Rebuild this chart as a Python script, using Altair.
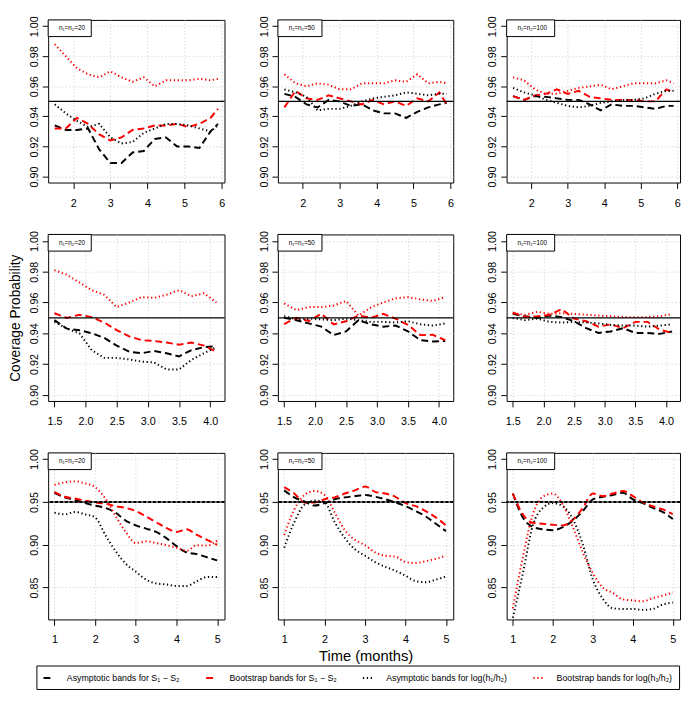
import altair as alt
import pandas as pd

FONT = "Liberation Sans"

# ---- series names (legend labels) ----
S_AS = "Asymptotic bands for S₁ − S₂"
S_BS = "Bootstrap bands for S₁ − S₂"
S_AL = "Asymptotic bands for log(h₁/h₂)"
S_BL = "Bootstrap bands for log(h₁/h₂)"
SERIES = [S_AS, S_BS, S_AL, S_BL]
COLORS = ["#000000", "#FF0000", "#000000", "#FF0000"]
DASHES = [[7, 4], [7, 4], [1.3, 2.7], [1.3, 2.7]]
WIDTHS = [2.0, 2.0, 1.4, 1.4]

# ---- x grids ----
X_ROW1 = [1.5, 1.8, 2.1, 2.4, 2.7, 3.0, 3.3, 3.6, 3.9, 4.2, 4.5, 4.8, 5.1, 5.4, 5.7, 5.9]
X_ROW2 = [1.5, 1.7, 1.9, 2.1, 2.3, 2.5, 2.7, 2.9, 3.1, 3.3, 3.5, 3.7, 3.9, 4.1]
X_ROW3 = [1.0, 1.25, 1.5, 1.75, 2.0, 2.25, 2.5, 2.75, 3.0, 3.25, 3.5, 3.75, 4.0, 4.25, 4.5, 4.75, 5.0]

# ---- row 1 ----
P11_AS = [0.934, 0.931, 0.931, 0.932, 0.918, 0.909, 0.909, 0.916, 0.917, 0.925, 0.926, 0.920, 0.920, 0.919, 0.930, 0.935]
P11_BS = [0.932, 0.932, 0.939, 0.935, 0.928, 0.924, 0.926, 0.931, 0.932, 0.934, 0.934, 0.935, 0.933, 0.935, 0.939, 0.945]
P11_AL = [0.948, 0.942, 0.937, 0.933, 0.935, 0.926, 0.922, 0.923, 0.929, 0.932, 0.935, 0.935, 0.934, 0.932, 0.930, 0.934]
P11_BL = [0.988, 0.980, 0.972, 0.968, 0.966, 0.970, 0.966, 0.963, 0.966, 0.960, 0.964, 0.964, 0.964, 0.965, 0.964, 0.965]

P12_AS = [0.955, 0.953, 0.948, 0.946, 0.951, 0.950, 0.947, 0.948, 0.944, 0.942, 0.942, 0.939, 0.943, 0.946, 0.948, 0.949]
P12_BS = [0.946, 0.957, 0.952, 0.951, 0.954, 0.952, 0.950, 0.948, 0.951, 0.948, 0.950, 0.947, 0.952, 0.950, 0.956, 0.948]
P12_AL = [0.958, 0.956, 0.953, 0.944, 0.945, 0.945, 0.947, 0.950, 0.952, 0.953, 0.954, 0.956, 0.955, 0.954, 0.955, 0.955]
P12_BL = [0.968, 0.962, 0.960, 0.962, 0.961, 0.958, 0.958, 0.962, 0.962, 0.962, 0.964, 0.963, 0.968, 0.962, 0.963, 0.962]

P13_AS = [0.9535, 0.951, 0.9535, 0.953, 0.952, 0.951, 0.951, 0.948, 0.944, 0.948, 0.947, 0.947, 0.946, 0.945, 0.947, 0.947]
P13_BS = [0.9535, 0.951, 0.954, 0.955, 0.958, 0.955, 0.957, 0.953, 0.952, 0.951, 0.951, 0.951, 0.950, 0.950, 0.958, 0.956]
P13_AL = [0.959, 0.956, 0.954, 0.951, 0.949, 0.947, 0.946, 0.947, 0.949, 0.950, 0.951, 0.951, 0.952, 0.955, 0.957, 0.957]
P13_BL = [0.966, 0.964, 0.958, 0.955, 0.955, 0.957, 0.959, 0.960, 0.961, 0.958, 0.960, 0.962, 0.962, 0.962, 0.964, 0.962]

# ---- row 2 ----
P21_AS = [0.9485, 0.943, 0.942, 0.940, 0.937, 0.932, 0.928, 0.927, 0.9285, 0.927, 0.925, 0.929, 0.931, 0.9315]
P21_BS = [0.953, 0.950, 0.952, 0.9505, 0.947, 0.942, 0.938, 0.9355, 0.935, 0.934, 0.9326, 0.934, 0.932, 0.928]
P21_AL = [0.9474, 0.943, 0.940, 0.929, 0.924, 0.924, 0.923, 0.9216, 0.921, 0.9165, 0.9165, 0.9227, 0.927, 0.931]
P21_BL = [0.981, 0.978, 0.973, 0.968, 0.965, 0.957, 0.960, 0.9635, 0.963, 0.965, 0.968, 0.964, 0.966, 0.960]

P22_AS = [0.950, 0.9485, 0.9464, 0.9443, 0.9388, 0.9412, 0.9485, 0.9458, 0.9443, 0.945, 0.9412, 0.9355, 0.9346, 0.935]
P22_BS = [0.946, 0.950, 0.948, 0.9526, 0.9458, 0.9478, 0.9515, 0.950, 0.9526, 0.9495, 0.9454, 0.9388, 0.939, 0.9355]
P22_AL = [0.9511, 0.949, 0.9495, 0.949, 0.9485, 0.9495, 0.9485, 0.9474, 0.9474, 0.947, 0.9478, 0.9458, 0.945, 0.9464]
P22_BL = [0.9594, 0.955, 0.957, 0.957, 0.958, 0.961, 0.9515, 0.9567, 0.960, 0.9627, 0.9635, 0.962, 0.961, 0.9635]

P23_AS = [0.9526, 0.951, 0.950, 0.9515, 0.9505, 0.9478, 0.9433, 0.9402, 0.9412, 0.9433, 0.9402, 0.9402, 0.9396, 0.9412]
P23_BS = [0.9536, 0.9505, 0.951, 0.952, 0.9557, 0.9495, 0.9478, 0.9443, 0.9458, 0.9433, 0.9474, 0.9474, 0.9423, 0.9402]
P23_AL = [0.950, 0.9485, 0.9495, 0.9474, 0.947, 0.9474, 0.947, 0.9464, 0.9454, 0.945, 0.945, 0.9443, 0.945, 0.9458]
P23_BL = [0.953, 0.952, 0.954, 0.9526, 0.953, 0.9526, 0.952, 0.9515, 0.951, 0.9505, 0.9505, 0.9505, 0.951, 0.9526]

# ---- row 3 ----
P31_AS = [0.9606, 0.9553, 0.9524, 0.9486, 0.9457, 0.943, 0.9375, 0.9282, 0.9226, 0.9189, 0.9151, 0.9077, 0.8984, 0.891, 0.8891, 0.8854, 0.8817]
P31_BS = [0.9617, 0.956, 0.954, 0.9516, 0.9494, 0.948, 0.945, 0.943, 0.9393, 0.933, 0.9263, 0.9196, 0.915, 0.918, 0.9114, 0.9058, 0.900]
P31_AL = [0.9375, 0.9356, 0.9382, 0.9356, 0.9319, 0.9114, 0.8928, 0.878, 0.8686, 0.8593, 0.8549, 0.8537, 0.8519, 0.8519, 0.8575, 0.8623, 0.8623]
P31_BL = [0.970, 0.9728, 0.974, 0.9717, 0.9672, 0.954, 0.9338, 0.915, 0.902, 0.904, 0.902, 0.8995, 0.8965, 0.893, 0.8995, 0.899, 0.905]

P32_AS = [0.9635, 0.9553, 0.9505, 0.9457, 0.9486, 0.9531, 0.9553, 0.9568, 0.958, 0.956, 0.9531, 0.9494, 0.945, 0.9393, 0.933, 0.9245, 0.9159]
P32_BS = [0.9672, 0.9598, 0.9494, 0.9494, 0.9531, 0.9553, 0.9598, 0.9635, 0.968, 0.9617, 0.9598, 0.956, 0.9486, 0.945, 0.9393, 0.9319, 0.9226]
P32_AL = [0.8965, 0.9263, 0.9468, 0.9516, 0.9494, 0.9263, 0.9077, 0.8947, 0.8872, 0.8798, 0.8742, 0.8697, 0.8638, 0.8575, 0.8563, 0.8593, 0.863]
P32_BL = [0.9114, 0.9412, 0.958, 0.9628, 0.958, 0.9375, 0.917, 0.9058, 0.8995, 0.891, 0.8872, 0.8861, 0.8798, 0.8787, 0.8809, 0.8835, 0.8872]

P33_AS = [0.9598, 0.9319, 0.9207, 0.9181, 0.917, 0.9207, 0.9282, 0.9393, 0.9531, 0.956, 0.958, 0.9606, 0.9531, 0.9486, 0.943, 0.9382, 0.930]
P33_BS = [0.9598, 0.9356, 0.9256, 0.9245, 0.9233, 0.9226, 0.9293, 0.943, 0.9598, 0.9568, 0.9598, 0.9628, 0.9568, 0.9494, 0.9449, 0.9412, 0.9356]
P33_AL = [0.8147, 0.8668, 0.9226, 0.943, 0.9486, 0.9449, 0.930, 0.9003, 0.8593, 0.837, 0.8258, 0.8251, 0.8251, 0.824, 0.8251, 0.8303, 0.8325]
P33_BL = [0.8258, 0.8854, 0.9356, 0.956, 0.9598, 0.9468, 0.9207, 0.891, 0.8668, 0.850, 0.8437, 0.8362, 0.8351, 0.834, 0.8377, 0.8407, 0.8444]

# ---- panel labels and ticks ----
LABELS = ["n₁=n₂=20", "n₁=n₂=50", "n₁=n₂=100"]
XTICKS_ROW1 = [2, 3, 4, 5, 6]
XTICKS_ROW2 = [1.5, 2.0, 2.5, 3.0, 3.5, 4.0]
XTICKS_ROW3 = [1, 2, 3, 4, 5]
YTICKS_ROW12 = [0.90, 0.92, 0.94, 0.96, 0.98, 1.00]
YTICKS_ROW3 = [0.85, 0.90, 0.95, 1.00]
TARGET = 0.95

COL_W = [180, 179, 177]
ROW_H = [166, 170, 170]
LABEL_BOX_W = [44, 45, 49]

LEGEND = alt.Legend(
    orient="none", legendX=-12, legendY=659, direction="horizontal", columns=4,
    symbolType="stroke", symbolSize=110, symbolStrokeWidth=1.5,
    labelFont=FONT, labelFontSize=9, labelColor="black",
    strokeColor="black", padding=6, columnPadding=22, labelOffset=12, cornerRadius=0,
)


def panel(xs, vals, label, col, row, xdom, ydom, xticks, yticks, xfmt,
          ytitle=None, xtitle=None, smooth=False, heavy=False):
    recs = []
    for name, ys in zip(SERIES, vals):
        for x, y in zip(xs, ys):
            recs.append({"x": x, "y": y, "series": name})
    df = pd.DataFrame(recs)
    one = pd.DataFrame({"k": [0]})

    xaxis = alt.Axis(values=xticks, tickCount=30, format=xfmt, title=xtitle, labelOverlap=False)
    yaxis = alt.Axis(values=yticks, tickCount=30, format=".2f", title=ytitle, labelOverlap=False)

    line_kw = {"clip": True}
    if smooth:
        line_kw["interpolate"] = "monotone"
    lines = alt.Chart(df).mark_line(**line_kw).encode(
        x=alt.X("x:Q", scale=alt.Scale(domain=xdom, nice=False, zero=False), axis=xaxis),
        y=alt.Y("y:Q", scale=alt.Scale(domain=ydom, nice=False, zero=False), axis=yaxis),
        color=alt.Color("series:N", scale=alt.Scale(domain=SERIES, range=COLORS), title=None, legend=LEGEND),
        strokeDash=alt.StrokeDash("series:N", scale=alt.Scale(domain=SERIES, range=DASHES), title=None,
                                  legend=LEGEND),
        strokeWidth=alt.StrokeWidth("series:N", scale=alt.Scale(domain=SERIES, range=WIDTHS), legend=None),
    )
    layers = [lines]
    layers.append(alt.Chart(one).mark_rule(color="black", strokeWidth=1.1).encode(y=alt.datum(TARGET)))
    if heavy:
        layers.append(alt.Chart(one).mark_rule(color="black", strokeWidth=2, strokeDash=[3, 2]).encode(
            y=alt.datum(TARGET)))
    layers.append(alt.Chart(one).mark_rect(fill="white", stroke="black", strokeWidth=1).encode(
        x=alt.value(0), x2=alt.value(LABEL_BOX_W[col]), y=alt.value(0), y2=alt.value(17)))
    layers.append(alt.Chart(one).mark_text(font=FONT, fontSize=6.5, align="left", baseline="middle",
                                            color="black").encode(
        x=alt.value(11), y=alt.value(8.5), text=alt.value(label)))
    return alt.layer(*layers).properties(width=COL_W[col], height=ROW_H[row])


R1X = [1.324, 6.076]
R2X = [1.40, 4.23]
R3X = [0.845, 5.18]
R12Y = [0.896, 1.0042]
R3Y = [0.8128, 1.0072]

panels = [
    panel(X_ROW1, [P11_AS, P11_BS, P11_AL, P11_BL], LABELS[0], 0, 0, R1X, R12Y, XTICKS_ROW1, YTICKS_ROW12, "d"),
    panel(X_ROW1, [P12_AS, P12_BS, P12_AL, P12_BL], LABELS[1], 1, 0, R1X, R12Y, XTICKS_ROW1, YTICKS_ROW12, "d"),
    panel(X_ROW1, [P13_AS, P13_BS, P13_AL, P13_BL], LABELS[2], 2, 0, R1X, R12Y, XTICKS_ROW1, YTICKS_ROW12, "d"),
    panel(X_ROW2, [P21_AS, P21_BS, P21_AL, P21_BL], LABELS[0], 0, 1, R2X, R12Y, XTICKS_ROW2, YTICKS_ROW12, ".1f",
          ytitle="Coverage Probability"),
    panel(X_ROW2, [P22_AS, P22_BS, P22_AL, P22_BL], LABELS[1], 1, 1, R2X, R12Y, XTICKS_ROW2, YTICKS_ROW12, ".1f"),
    panel(X_ROW2, [P23_AS, P23_BS, P23_AL, P23_BL], LABELS[2], 2, 1, R2X, R12Y, XTICKS_ROW2, YTICKS_ROW12, ".1f"),
    panel(X_ROW3, [P31_AS, P31_BS, P31_AL, P31_BL], LABELS[0], 0, 2, R3X, R3Y, XTICKS_ROW3, YTICKS_ROW3, "d",
          smooth=True, heavy=True),
    panel(X_ROW3, [P32_AS, P32_BS, P32_AL, P32_BL], LABELS[1], 1, 2, R3X, R3Y, XTICKS_ROW3, YTICKS_ROW3, "d",
          xtitle="Time (months)", smooth=True, heavy=True),
    panel(X_ROW3, [P33_AS, P33_BS, P33_AL, P33_BL], LABELS[2], 2, 2, R3X, R3Y, XTICKS_ROW3, YTICKS_ROW3, "d",
          smooth=True, heavy=True),
]

chart = alt.concat(*panels, columns=3, spacing={"row": 21, "column": 31.5}, align="each").resolve_scale(
    color="shared", strokeDash="shared", strokeWidth="shared"
).resolve_legend(
    color="shared", strokeDash="shared"
).properties(
    padding=0
).configure_view(
    stroke="black", strokeWidth=1
).configure_axis(
    domain=False, tickColor="black", tickSize=6, tickWidth=1,
    labelFont=FONT, labelFontSize=11, labelColor="black", labelOverlap=False,
    grid=True, gridColor="#c4c4c4", gridDash=[1, 2.5], gridWidth=0.9,
    titleFont=FONT, titleFontWeight="normal", titleColor="black",
).configure_axisLeft(
    labelAngle=270, labelAlign="center", labelBaseline="bottom", labelPadding=3,
    titleFontSize=14, titlePadding=6,
).configure_axisBottom(
    labelPadding=9, titleFontSize=15, titlePadding=4,
)

chart.save("out.html", embed_options={"renderer": "svg", "actions": False})
